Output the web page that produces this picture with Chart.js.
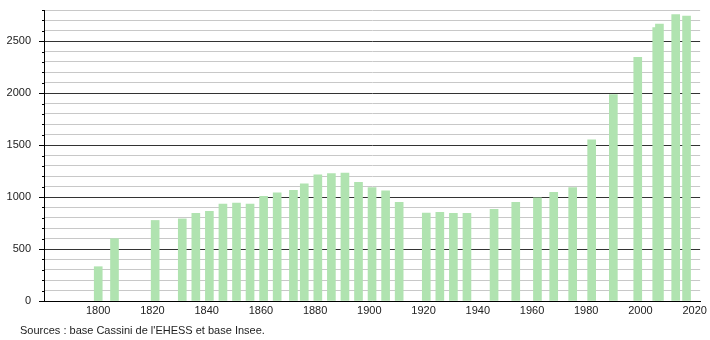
<!DOCTYPE html>
<html>
<head>
<meta charset="utf-8">
<script src="https://cdn.jsdelivr.net/npm/chart.js@4/dist/chart.umd.min.js"></script>
<style>
  body { margin: 0; background: #fff; }
  #wrap { position: relative; width: 710px; height: 340px; }
  #sources {
    position: absolute; left: 20px; top: 324px;
    font: 11px "Liberation Sans", Arial, sans-serif; color: #222;
  }
</style>
</head>
<body>
<div id="wrap">
  <canvas id="chart" width="710" height="340"></canvas>
  <div id="sources">Sources : base Cassini de l'EHESS et base Insee.</div>
</div>
<script>
// census years and population
const years = [1800, 1806, 1821, 1831, 1836, 1841, 1846, 1851, 1856, 1861, 1866, 1872,
  1876, 1881, 1886, 1891, 1896, 1901, 1906, 1911, 1921, 1926, 1931, 1936, 1946, 1954,
  1962, 1968, 1975, 1982, 1990, 1999, 2006, 2007, 2013, 2017];
const population = [330, 600, 775, 790, 843, 862, 933, 943, 933, 1008, 1040, 1066,
  1127, 1215, 1225, 1231, 1143, 1092, 1059, 950, 846, 853, 843, 843, 882, 950,
  992, 1046, 1092, 1550, 1986, 2345, 2630, 2665, 2755, 2742];
const xTicks = [1800, 1820, 1840, 1860, 1880, 1900, 1920, 1940, 1960, 1980, 2000, 2020];

Chart.defaults.font.family = '"Liberation Sans", Arial, sans-serif';
Chart.defaults.font.size = 11;
Chart.defaults.color = '#222';

// small tick marks on the y axis: long ones every 500, short ones every 100
const yTickMarks = {
  id: 'yTickMarks',
  afterDraw(chart) {
    const ctx = chart.ctx;
    const y = chart.scales.y;
    ctx.save();
    ctx.strokeStyle = '#000';
    ctx.lineWidth = 1;
    y.ticks.forEach(t => {
      const py = Math.round(y.getPixelForValue(t.value)) + 0.5;
      const len = t.value % 500 === 0 ? 5 : 2;
      ctx.beginPath();
      ctx.moveTo(y.right - len, py);
      ctx.lineTo(y.right, py);
      ctx.stroke();
    });
    ctx.restore();
  }
};

new Chart(document.getElementById('chart'), {
  type: 'bar',
  data: {
    datasets: [{
      data: years.map((yr, i) => ({ x: yr, y: population[i] })),
      backgroundColor: 'rgb(176, 227, 176)',
      borderWidth: 0,
      barThickness: 8,
    }],
  },
  plugins: [yTickMarks],
  options: {
    responsive: false,
    animation: false,
    layout: { autoPadding: false, padding: { top: 10, right: 9, bottom: 19, left: 0 } },
    plugins: {
      legend: { display: false },
      tooltip: { enabled: false },
    },
    scales: {
      x: {
        type: 'linear',
        min: 1780,
        max: 2022,
        offset: false,
        grid: { display: false, drawTicks: false },
        border: { display: true, color: '#000', width: 1 },
        ticks: { padding: 3, maxRotation: 0, autoSkip: false, callback: v => String(v) },
        afterBuildTicks: s => { s.ticks = xTicks.map(v => ({ value: v })); },
        afterFit: s => { s.height = 20; },
      },
      y: {
        min: 0,
        max: 2800,
        grid: {
          drawTicks: false,
          color: c => (c.tick && c.tick.value % 500 === 0 ? '#333' : '#c8c8c8'),
        },
        border: { display: true, color: '#000', width: 1 },
        ticks: {
          stepSize: 100,
          autoSkip: false,
          padding: 13,
          callback: v => (v % 500 === 0 ? String(v) : ''),
        },
        afterFit: s => { s.width = 44; s.paddingTop = 0; s.paddingBottom = 0; },
      },
    },
  },
});
</script>
</body>
</html>
